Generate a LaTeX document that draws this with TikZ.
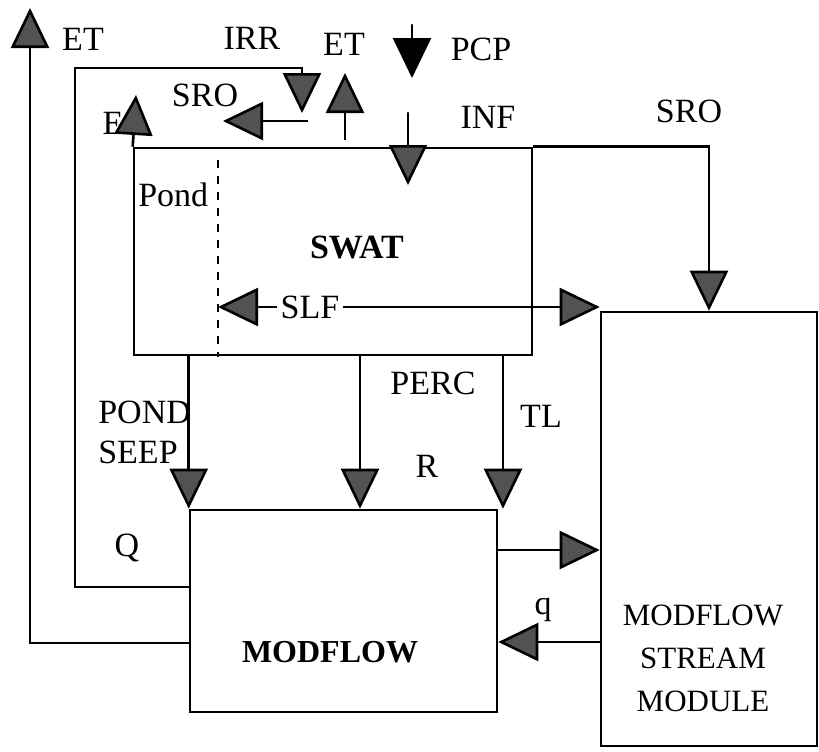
\documentclass[tikz,border=0pt]{standalone}
\usepackage{fontspec}
\setmainfont{Liberation Serif}
\usepackage{tikz}
\usetikzlibrary{arrows.meta}
\definecolor{headgray}{gray}{0.32}
\tikzstyle{box}=[draw,rectangle,inner sep=0pt]
\tikzstyle{flow}=[-{Triangle[length=20pt,width=19pt,fill=headgray]}]

\begin{document}
\begin{tikzpicture}[x=0.5pt, y=-0.5pt, line width=1.3pt, line join=miter, font=\fontsize{17}{20}\selectfont]
\useasboundingbox (0,0) rectangle (819,751);
  % the three models
  \node[box, minimum width=199pt, minimum height=103.5pt] (swat) at (333,251.5) {};
  \node[box, minimum width=153.5pt, minimum height=101pt] (modflow) at (343.5,611) {};
  \node[box, minimum width=108pt, minimum height=217pt] (stream) at (709,529) {};
  \node[font=\fontsize{17}{20}\selectfont\bfseries] (swat-txt) at (357,247) {SWAT};
  \node[font=\fontsize{16}{20}\selectfont\bfseries] (modflow-txt) at (330,652) {MODFLOW};
  \node[align=center, font=\fontsize{15.5}{21.5}\selectfont] (stream-txt) at (703,658)
    {MODFLOW\\STREAM\\MODULE};
  % flux labels
  \foreach \place/\name/\txt in {{(83,39)/et-l/ET},
                                 {(252,38)/irr/IRR},
                                 {(344,44)/et-m/ET},
                                 {(481,49)/pcp/PCP},
                                 {(205,95)/sro-l/SRO},
                                 {(113,123)/e/E},
                                 {(488,117)/inf/INF},
                                 {(689,111)/sro-r/SRO},
                                 {(310,307)/slf/SLF},
                                 {(433,383)/perc-txt/PERC},
                                 {(427,466)/r/R},
                                 {(541,416)/tl-txt/TL},
                                 {(127,548)/q-big/Q},
                                 {(543,610)/q-small/q}}
    \node[inner sep=1pt] (\name) at \place {\txt};
  \node[anchor=west, inner sep=0pt] (pond) at (137,195) {Pond};
  \node[anchor=west, align=left, inner sep=0pt] (seep) at (97,432) {POND\\SEEP};
  % free ends
  \coordinate (et-tip) at (30,8);
  \coordinate (irr-left) at (75,68);
  \coordinate (irr-tip) at (302,113);
  \coordinate (etm-base) at (345,140);
  \coordinate (etm-tip) at (345,73);
  \coordinate (pcp-top) at (412,25);
  \coordinate (pcp-tip) at (412,78);
  \coordinate (inf-top) at (408,113);
  \coordinate (inf-tip) at (408,185);
  \coordinate (sro-start) at (308,121);
  \coordinate (sro-tip) at (223,121);
  \coordinate (e-tip) at (136,95);
  \coordinate (pond-top) at (218,160);
  \coordinate (pond-bot) at (218,357);
  \coordinate (perc) at (360,0);
  \coordinate (tl) at (503,0);
  \coordinate (q-line) at (0,587);
  \coordinate (et-line) at (0,643);
  \coordinate (mf-line) at (0,550);
  \coordinate (qs-line) at (0,642);
  % connectors
  \draw[dash pattern=on 4pt off 4pt] (pond-top) -- (pond-bot);
  \draw[flow] (modflow.west |- et-line) -| (et-tip);
  \draw[flow] (modflow.west |- q-line) -| (irr-left) -| (irr-tip);
  \draw[flow] (etm-base) -- (etm-tip);
  \draw[-{Triangle[length=20pt,width=19pt,fill=black]}, line cap=round] (pcp-top) -- (pcp-tip);
  \draw[flow, line cap=round] (inf-top) -- (inf-tip);
  \draw[flow] (sro-start) -- (sro-tip);
  \draw[flow] (swat.north west) -- (e-tip);
  \draw[flow] (swat.north east) -| (stream.north);
  \draw[flow] (slf.west) -- (slf.west -| pond-top);
  \draw[flow] (slf.east) -- (slf.east -| stream.west);
  \draw[flow] (modflow.north west |- swat.south) -- (modflow.north west);
  \draw[flow] (swat.south -| perc) -- (modflow.north -| perc);
  \draw[flow] (swat.south -| tl) -- (modflow.north -| tl);
  \draw[flow] (modflow.east |- mf-line) -- (stream.west |- mf-line);
  \draw[flow] (stream.west |- qs-line) -- (modflow.east |- qs-line);
\end{tikzpicture}
\end{document}
